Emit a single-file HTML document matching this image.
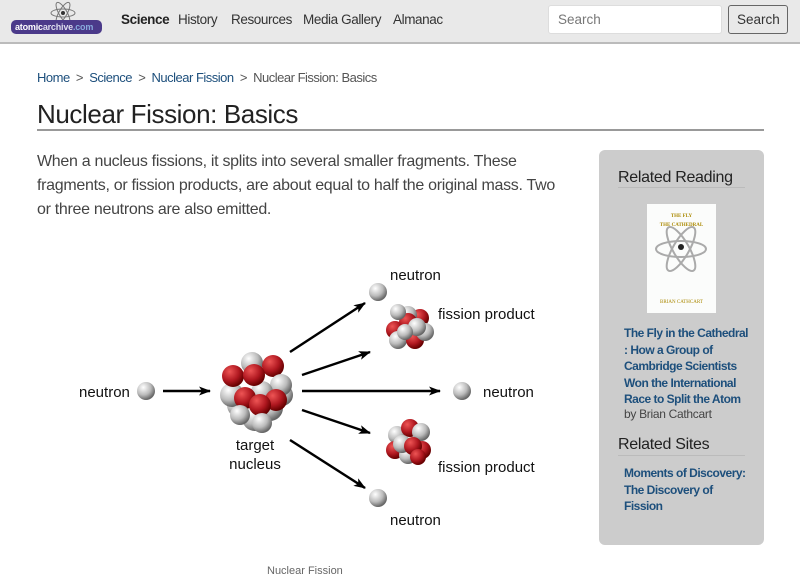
<!DOCTYPE html>
<html><head><meta charset="utf-8"><style>
*{margin:0;padding:0;box-sizing:border-box}
body{width:800px;height:582px;overflow:hidden;background:#fff;font-family:"Liberation Sans",sans-serif;position:relative;color:#333}
.hdr{position:absolute;left:0;top:0;width:800px;height:44px;background:#e9e9e9;border-bottom:2px solid #bbb}
.abs{position:absolute;white-space:nowrap}
.nav{top:12px;font-size:13.5px;color:#333;letter-spacing:-0.4px}
a{color:#1d4f7c;text-decoration:none}
.side{font-size:12px;line-height:16.5px;font-weight:bold;color:#1d4f7c;letter-spacing:-0.5px}
</style></head><body>
<div class="hdr">
  <svg class="abs" style="left:48px;top:1px" width="30" height="24"><g fill="none" stroke="#777" stroke-width="1"><ellipse cx="15" cy="12" rx="12" ry="4"/><ellipse cx="15" cy="12" rx="12" ry="4" transform="rotate(60 15 12)"/><ellipse cx="15" cy="12" rx="12" ry="4" transform="rotate(-60 15 12)"/></g><circle cx="15" cy="12" r="2" fill="#333"/></svg>
  <div class="abs" style="left:11px;top:20px;width:91px;height:14px;background:#4b3a8a;border-radius:5px;color:#fff;font-size:9px;font-weight:bold;line-height:14px;padding-left:4px;letter-spacing:-0.2px">atomic<span style="color:#dde">archive</span><span style="color:#8ad">.com</span></div>
  <div class="abs nav" style="left:121px;font-weight:bold;color:#222">Science</div>
  <div class="abs nav" style="left:178px">History</div>
  <div class="abs nav" style="left:231px">Resources</div>
  <div class="abs nav" style="left:303px">Media Gallery</div>
  <div class="abs nav" style="left:393px">Almanac</div>
  <div class="abs" style="left:548px;top:5px;width:174px;height:29px;background:#fff;border:1px solid #ddd;border-radius:3px;font-size:13.5px;color:#777;padding:6px 9px">Search</div>
  <div class="abs" style="left:728px;top:5px;width:60px;height:29px;background:#e9e9e9;border:1px solid #666;border-radius:3px;font-size:13.5px;color:#333;padding:6px 8px">Search</div>
</div>
<div class="abs" style="left:37px;top:70px;font-size:13px;color:#555;letter-spacing:-0.5px"><a href="#">Home</a> &nbsp;&gt;&nbsp; <a href="#">Science</a> &nbsp;&gt;&nbsp; <a href="#">Nuclear Fission</a> &nbsp;&gt;&nbsp; Nuclear Fission: Basics</div>
<div class="abs" style="left:37px;top:99px;font-size:26px;color:#222;letter-spacing:-0.4px">Nuclear Fission: Basics</div>
<div class="abs" style="left:37px;top:129px;width:727px;height:2px;background:#999"></div>
<div class="abs" style="left:37px;top:150px;font-size:16px;line-height:24px;color:#444;letter-spacing:-0.3px">When a nucleus fissions, it splits into several smaller fragments. These<br>fragments, or fission products, are about equal to half the original mass. Two<br>or three neutrons are also emitted.</div>

<svg class="abs" style="left:0;top:0" width="800" height="582">
<defs>
<radialGradient id="g" cx="35%" cy="30%" r="70%"><stop offset="0" stop-color="#fff"/><stop offset="0.6" stop-color="#bbb"/><stop offset="1" stop-color="#666"/></radialGradient>
<radialGradient id="r" cx="35%" cy="30%" r="70%"><stop offset="0" stop-color="#e55"/><stop offset="0.6" stop-color="#b01820"/><stop offset="1" stop-color="#600"/></radialGradient>
<marker id="m" markerWidth="12" markerHeight="9" refX="11" refY="4.5" orient="auto" markerUnits="userSpaceOnUse"><path d="M0,0L12,4.5L0,9L3,4.5z" fill="#000"/></marker>
</defs>
<g stroke="#000" stroke-width="2.5" marker-end="url(#m)">
<line x1="163" y1="391" x2="210" y2="391"/>
<line x1="290" y1="352" x2="365" y2="303"/>
<line x1="302" y1="375" x2="370" y2="352"/>
<line x1="302" y1="391" x2="440" y2="391"/>
<line x1="302" y1="410" x2="370" y2="433"/>
<line x1="290" y1="440" x2="365" y2="488"/>
</g>
<circle cx="146" cy="391" r="9" fill="url(#g)"/>
<circle cx="378" cy="292" r="9" fill="url(#g)"/>
<circle cx="462" cy="391" r="9" fill="url(#g)"/>
<circle cx="378" cy="498" r="9" fill="url(#g)"/>
<g>
<circle cx="240" cy="405" r="13" fill="url(#g)"/><circle cx="270" cy="408" r="13" fill="url(#g)"/><circle cx="255" cy="418" r="13" fill="url(#g)"/>
<circle cx="232" cy="395" r="12" fill="url(#g)"/><circle cx="282" cy="395" r="11" fill="url(#g)"/>
<circle cx="233" cy="376" r="11" fill="url(#r)"/><circle cx="252" cy="363" r="11" fill="url(#g)"/><circle cx="273" cy="366" r="11" fill="url(#r)"/>
<circle cx="281" cy="385" r="11" fill="url(#g)"/><circle cx="262" cy="392" r="11" fill="url(#g)"/>
<circle cx="254" cy="375" r="11" fill="url(#r)"/><circle cx="245" cy="398" r="11" fill="url(#r)"/><circle cx="276" cy="400" r="11" fill="url(#r)"/><circle cx="260" cy="405" r="11" fill="url(#r)"/>
<circle cx="240" cy="415" r="10" fill="url(#g)"/><circle cx="262" cy="423" r="10" fill="url(#g)"/>
</g>
<g>
<circle cx="395" cy="330" r="9" fill="url(#r)"/><circle cx="420" cy="318" r="9" fill="url(#r)"/><circle cx="408" cy="315" r="9" fill="url(#g)"/>
<circle cx="398" cy="340" r="9" fill="url(#g)"/><circle cx="415" cy="340" r="9" fill="url(#r)"/><circle cx="425" cy="332" r="9" fill="url(#g)"/>
<circle cx="408" cy="322" r="9" fill="url(#r)"/><circle cx="398" cy="312" r="8" fill="url(#g)"/><circle cx="417" cy="327" r="9" fill="url(#g)"/><circle cx="405" cy="332" r="8" fill="url(#g)"/>
</g>
<g>
<circle cx="397" cy="435" r="9" fill="url(#g)"/><circle cx="410" cy="428" r="9" fill="url(#r)"/><circle cx="421" cy="432" r="9" fill="url(#g)"/>
<circle cx="395" cy="450" r="9" fill="url(#r)"/><circle cx="408" cy="455" r="9" fill="url(#g)"/><circle cx="422" cy="450" r="9" fill="url(#r)"/>
<circle cx="402" cy="444" r="9" fill="url(#g)"/><circle cx="413" cy="446" r="9" fill="url(#r)"/><circle cx="418" cy="457" r="8" fill="url(#r)"/>
</g>
<g font-family="Liberation Sans, sans-serif" font-size="15" fill="#111">
<text x="79" y="397">neutron</text>
<text x="390" y="280">neutron</text>
<text x="438" y="319">fission product</text>
<text x="483" y="397">neutron</text>
<text x="438" y="472">fission product</text>
<text x="390" y="525">neutron</text>
<text x="255" y="450" text-anchor="middle">target</text>
<text x="255" y="469" text-anchor="middle">nucleus</text>
</g>
</svg>
<div class="abs" style="left:267px;top:565px;font-size:11px;color:#666">Nuclear Fission</div>

<div class="abs" style="left:599px;top:150px;width:165px;height:395px;background:#ccc;border-radius:6px"></div>
<div class="abs" style="left:618px;top:169px;font-size:16px;color:#222;letter-spacing:-0.3px">Related Reading</div>
<div class="abs" style="left:618px;top:187px;width:127px;height:1px;background:#bbb"></div>
<div class="abs" style="left:647px;top:204px;width:69px;height:109px;background:#fbfcfb">
<div style="font:bold 5px 'Liberation Serif',serif;color:#a80;text-align:center;margin-top:10px">THE FLY</div>
<div style="font:bold 5px 'Liberation Serif',serif;color:#a80;text-align:center;margin-top:4px">THE CATHEDRAL</div>
<svg width="69" height="50" style="position:absolute;left:0;top:20px"><g fill="none" stroke="#aaa" stroke-width="2"><ellipse cx="34" cy="25" rx="25" ry="8" transform="rotate(60 34 25)"/><ellipse cx="34" cy="25" rx="25" ry="8" transform="rotate(-60 34 25)"/><ellipse cx="34" cy="25" rx="25" ry="8"/></g><circle cx="34" cy="23" r="3" fill="#222"/></svg>
<div style="position:absolute;top:96px;width:69px;font:5px 'Liberation Serif',serif;color:#a80;text-align:center">BRIAN CATHCART</div>
</div>
<div class="abs side" style="left:624px;top:325px">The Fly in the Cathedral<br>: How a Group of<br>Cambridge Scientists<br>Won the International<br>Race to Split the Atom</div>
<div class="abs" style="left:624px;top:407px;font-size:12px;color:#444;letter-spacing:-0.3px">by Brian Cathcart</div>
<div class="abs" style="left:618px;top:436px;font-size:16px;color:#222;letter-spacing:-0.3px">Related Sites</div>
<div class="abs" style="left:618px;top:455px;width:127px;height:1px;background:#bbb"></div>
<div class="abs side" style="left:624px;top:465px">Moments of Discovery:<br>The Discovery of<br>Fission</div>
</body></html>
